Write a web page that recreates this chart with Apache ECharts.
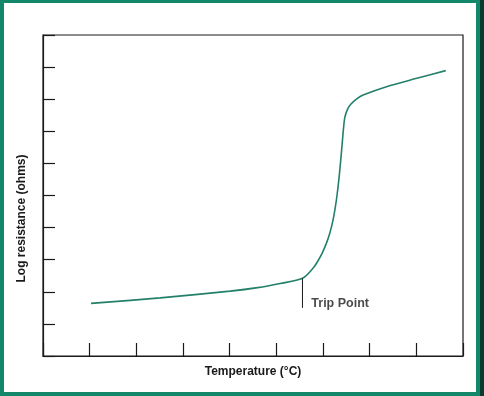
<!DOCTYPE html>
<html>
<head>
<meta charset="utf-8">
<script src="https://cdn.jsdelivr.net/npm/echarts@6/dist/echarts.min.js"></script>
<style>
  html, body { margin: 0; padding: 0; background: #fff; }
  #chart { position: absolute; left: 0; top: 0; width: 484px; height: 396px; }
  #frame {
    position: absolute; left: 0; top: 0; width: 480px; height: 396px;
    box-sizing: border-box; border: 4px solid #13876a; border-top-width: 3px;
    pointer-events: none;
  }
  #edge { position: absolute; left: 480px; top: 0; width: 4px; height: 396px; background: #0b3b2f; }
</style>
</head>
<body>
<div id="chart"></div>
<div id="frame"></div>
<div id="edge"></div>
<script>
// curve (x in tick units, y in tick units)
const temperature = [1.03, 2.51, 4.01, 4.6, 5.08, 5.56, 5.79, 5.89, 5.98, 6.07, 6.15, 6.21, 6.26, 6.3, 6.34, 6.38, 6.41, 6.44, 6.47, 6.53, 6.6, 6.73, 6.86, 7.36, 8.01, 8.63]
const logResistance = [1.64, 1.81, 2.02, 2.13, 2.26, 2.42, 2.74, 2.96, 3.2, 3.5, 3.85, 4.2, 4.6, 5.0, 5.5, 6.1, 6.6, 7.1, 7.45, 7.7, 7.85, 8.02, 8.13, 8.39, 8.65, 8.89]

const tripX = [5.56, 5.56]
const tripY = [2.42, 1.5]
const tripLabel = 'Trip Point'

const chart = echarts.init(document.getElementById('chart'))

const font = 'Liberation Sans, Arial, sans-serif'

const option = {
  animation: false,
  backgroundColor: '#fff',
  grid: {
    left: 43,
    top: 35,
    right: 21,
    bottom: 40,
    show: true,
    borderColor: '#1a1a1a',
    borderWidth: 1.2
  },
  xAxis: {
    type: 'value',
    min: 0,
    max: 9,
    interval: 1,
    name: 'Temperature (°C)',
    nameLocation: 'middle',
    nameGap: 10,
    nameTextStyle: { color: '#1a1a1a', fontSize: 12, fontWeight: 'bold', fontFamily: font },
    axisLine: { lineStyle: { color: '#1a1a1a', width: 1.2 } },
    axisTick: { inside: true, length: 13, lineStyle: { color: '#1a1a1a', width: 1.2 } },
    axisLabel: { show: false },
    splitLine: { show: false }
  },
  yAxis: {
    type: 'value',
    min: 0,
    max: 10,
    interval: 1,
    name: 'Log resistance (ohms)',
    nameLocation: 'middle',
    nameGap: 15,
    nameRotate: 90,
    nameTextStyle: {
      color: '#1a1a1a', fontSize: 12, fontWeight: 'bold', fontFamily: font,
      padding: [0, 46, 0, 0]
    },
    axisLine: { lineStyle: { color: '#1a1a1a', width: 1.2 } },
    axisTick: { inside: true, length: 12, lineStyle: { color: '#1a1a1a', width: 1.2 } },
    axisLabel: { show: false },
    splitLine: { show: false }
  },
  series: [
    {
      type: 'line',
      data: temperature.map((t, i) => [t, logResistance[i]]),
      smooth: 0.3,
      symbol: 'none',
      lineStyle: { color: '#23806a', width: 1.6 }
    },
    {
      type: 'line',
      data: tripX.map((t, i) => [t, tripY[i]]),
      symbol: 'none',
      lineStyle: { color: '#1a1a1a', width: 1 }
    },
    {
      type: 'scatter',
      data: [[5.75, 1.62]],
      symbolSize: 0,
      label: {
        show: true,
        position: 'right',
        distance: 0,
        formatter: tripLabel,
        color: '#1a1a1a',
        fontSize: 12.5,
        fontWeight: 'bold',
        fontFamily: font
      }
    }
  ]
}

chart.setOption(option)
</script>
</body>
</html>
